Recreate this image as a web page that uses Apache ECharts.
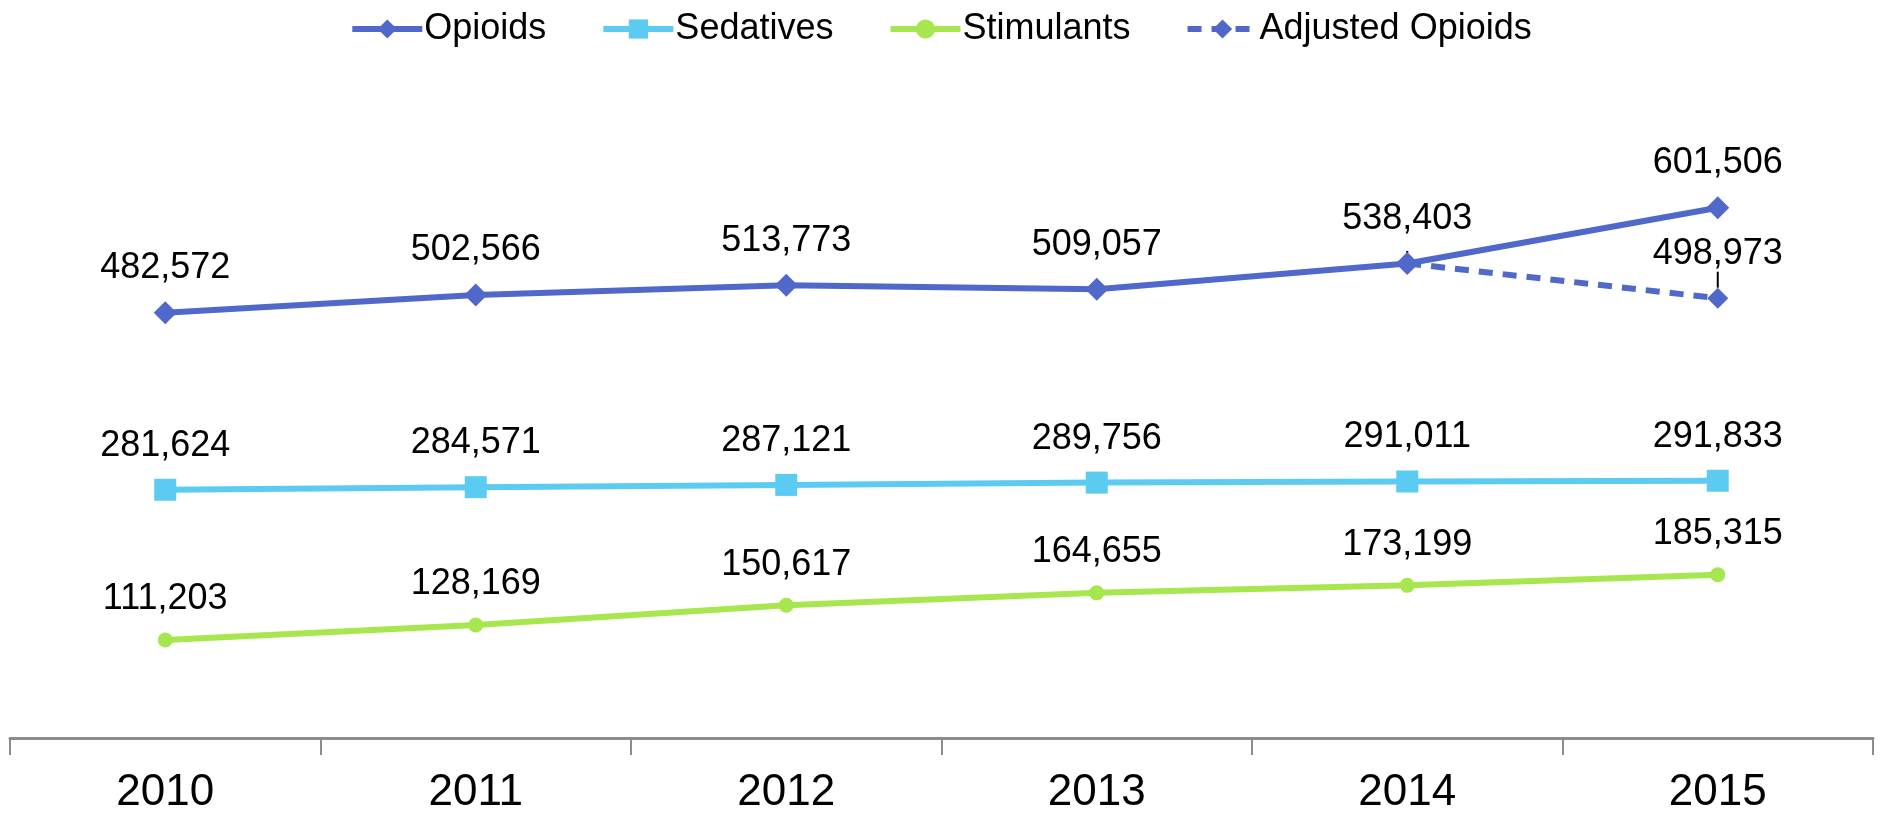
<!DOCTYPE html>
<html>
<head>
<meta charset="utf-8">
<script src="https://cdn.jsdelivr.net/npm/echarts@6/dist/echarts.min.js"></script>
<style>
  html, body { margin: 0; padding: 0; background: #ffffff; }
  #chart { width: 1881px; height: 815px; }
</style>
</head>
<body>
<div id="chart"></div>
<script>
// Yearly counts by drug class
const years = ['2010', '2011', '2012', '2013', '2014', '2015'];
const opioids = [482572, 502566, 513773, 509057, 538403, 601506];
const sedatives = [281624, 284571, 287121, 289756, 291011, 291833];
const stimulants = [111203, 128169, 150617, 164655, 173199, 185315];
const adjustedOpioids = [null, null, null, null, 538403, 498973];

const FONT = 'Liberation Sans';
const fmt = v => Number(v).toLocaleString('en-US');

const labelStyle = {
  show: true,
  position: 'top',
  distance: 15,
  fontSize: 36,
  fontFamily: FONT,
  color: '#000',
  formatter: p => fmt(p.value)
};

const chart = echarts.init(document.getElementById('chart'), null, { renderer: 'canvas' });
chart.setOption({
  animation: false,
  backgroundColor: '#ffffff',
  legend: {
    top: 6,
    left: 'center',
    itemWidth: 70,
    itemHeight: 24,
    itemGap: 54,
    lineStyle: { width: 6 },
    textStyle: { fontSize: 36, fontFamily: FONT, color: '#000', padding: [0, 0, 0, -3] },
    data: ['Opioids', 'Sedatives', 'Stimulants', 'Adjusted Opioids']
  },
  grid: { left: 10, right: 8, top: 121, bottom: 76 },
  xAxis: {
    type: 'category',
    data: years,
    boundaryGap: true,
    axisLine: { lineStyle: { color: '#8c8c8c', width: 3 } },
    axisTick: { show: true, length: 17, lineStyle: { color: '#8c8c8c', width: 2 } },
    axisLabel: { fontSize: 44, fontFamily: FONT, color: '#000', margin: 33 }
  },
  yAxis: {
    type: 'value',
    min: 0,
    max: 700000,
    show: false,
    splitLine: { show: false }
  },
  series: [
    {
      name: 'Opioids',
      type: 'line',
      data: opioids,
      color: '#4f68c9',
      lineStyle: { width: 6 },
      symbol: 'diamond',
      symbolSize: 23,
      label: labelStyle,
      z: 3
    },
    {
      name: 'Sedatives',
      type: 'line',
      data: sedatives,
      color: '#5ccbf2',
      lineStyle: { width: 6 },
      symbol: 'rect',
      symbolSize: 22,
      label: labelStyle
    },
    {
      name: 'Stimulants',
      type: 'line',
      data: stimulants,
      color: '#a6e64e',
      lineStyle: { width: 6 },
      symbol: 'circle',
      symbolSize: 15,
      label: labelStyle
    },
    {
      name: 'Adjusted Opioids',
      type: 'line',
      data: adjustedOpioids,
      color: '#4f68c9',
      lineStyle: { width: 6, type: [14, 10] },
      symbol: 'diamond',
      symbolSize: 21,
      connectNulls: false,
      label: Object.assign({}, labelStyle, {
        distance: 2,
        formatter: p => (p.dataIndex === 5 ? fmt(p.value) : '')
      }),
      labelLayout: p => (p.dataIndex === 5 ? { dy: -14 } : {}),
      labelLine: { show: true, lineStyle: { color: '#000', width: 2 }, length2: 0 },
      z: 2
    }
  ]
});
</script>
</body>
</html>
